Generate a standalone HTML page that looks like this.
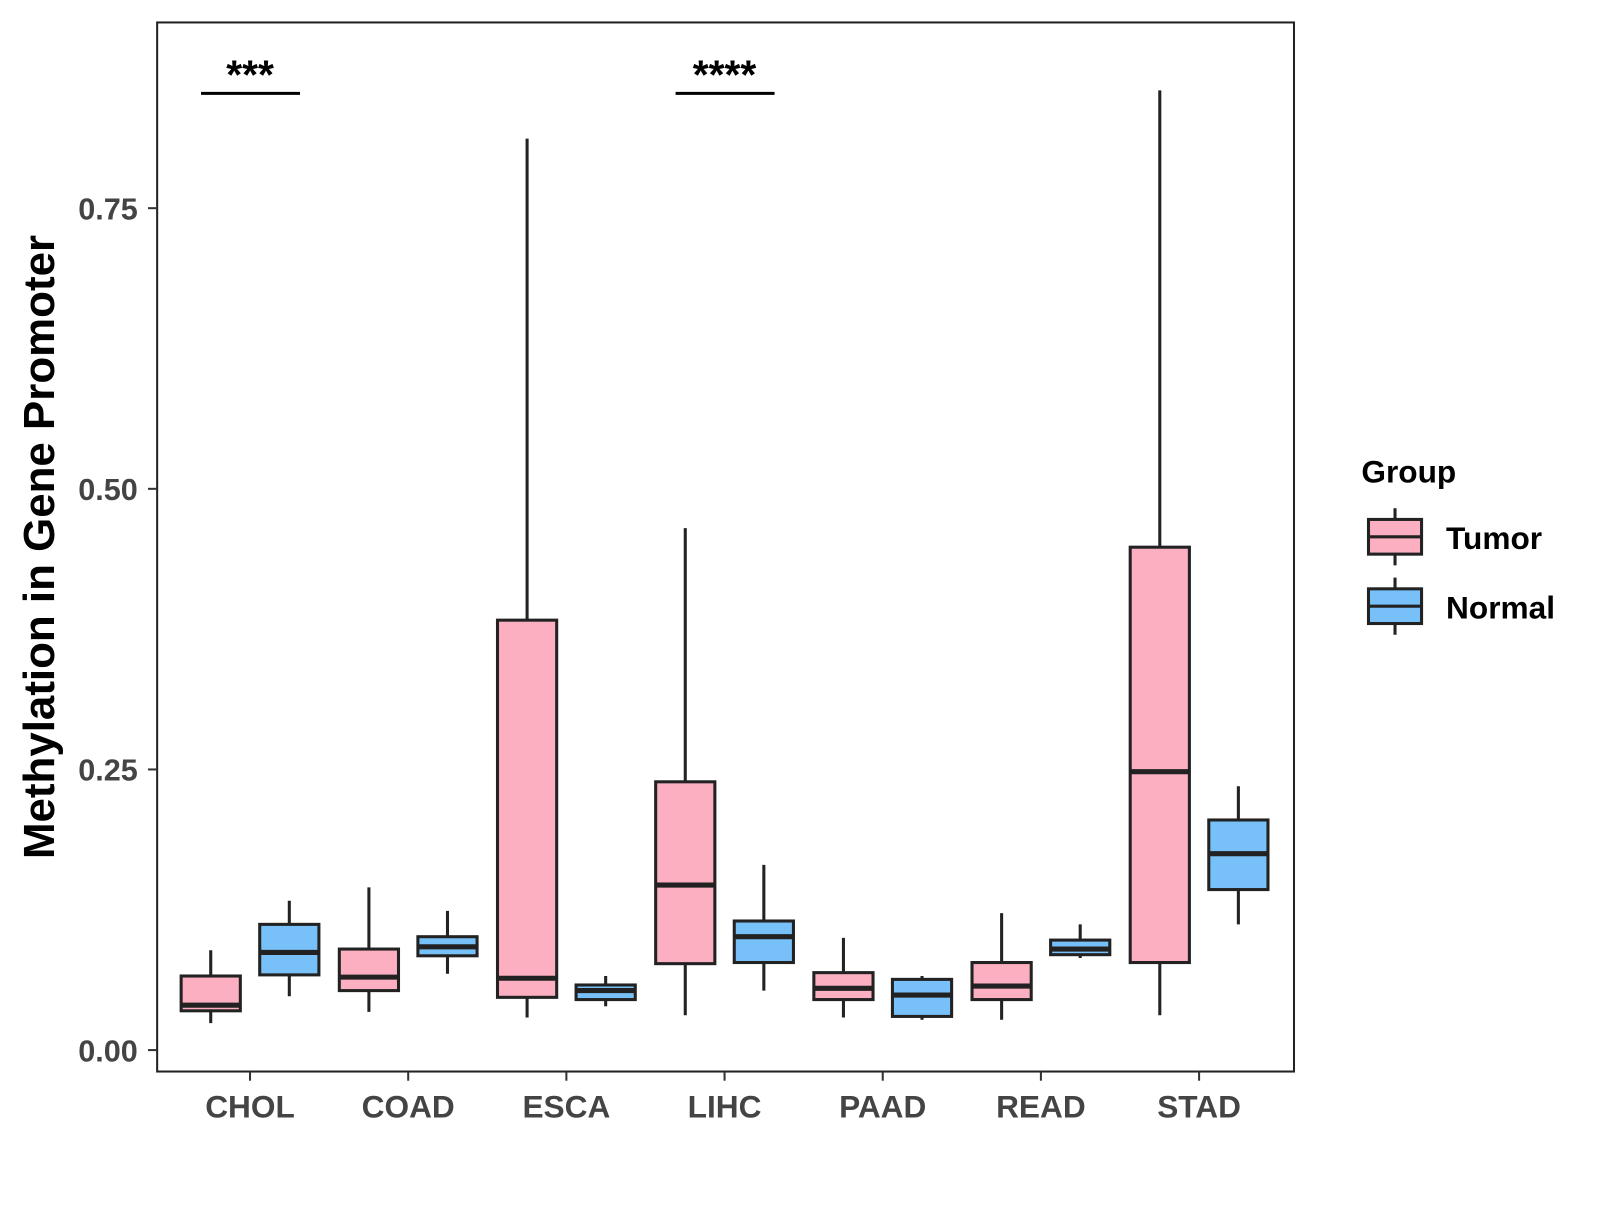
<!DOCTYPE html>
<html><head><meta charset="utf-8"><style>
body{margin:0;background:#fff}
svg text{font-family:"Liberation Sans",Arial,sans-serif;font-weight:bold}
</style></head><body>
<svg id="chart" width="1600" height="1200" viewBox="0 0 1600 1200">
<g transform="scale(1.0205)">
<rect x="154" y="22" width="1114" height="1028" fill="#fff" stroke="#222" stroke-width="2"/>
<g id="marks"></g>
<g id="axes"></g>
<text transform="translate(53,536) rotate(-90)" text-anchor="middle" font-size="43" fill="#000">Methylation in Gene Promoter</text>
<g>
<text x="1334" y="473" font-size="31" fill="#000">Group</text>
<g>
<line x1="1367" y1="498" x2="1367" y2="554" stroke="#222" stroke-width="3"/>
<rect x="1341" y="509" width="52" height="34" fill="#FBAFC0" stroke="#222" stroke-width="3"/>
<line x1="1341" y1="526" x2="1393" y2="526" stroke="#222" stroke-width="3"/>
<text x="1417" y="538" font-size="31" fill="#000">Tumor</text></g>
<g>
<line x1="1367" y1="566" x2="1367" y2="622" stroke="#222" stroke-width="3"/>
<rect x="1341" y="577" width="52" height="34" fill="#77C1F8" stroke="#222" stroke-width="3"/>
<line x1="1341" y1="594" x2="1393" y2="594" stroke="#222" stroke-width="3"/>
<text x="1417" y="606" font-size="31" fill="#000">Normal</text></g>
</g>
</g>
</svg>
<script>
const categories=["CHOL","COAD","ESCA","LIHC","PAAD","READ","STAD"];
// [lowWhisker, q1, median, q3, highWhisker]
const tumorStats=[[.024,.035,.040,.066,.089],[.034,.053,.065,.090,.145],[.029,.047,.064,.383,.812],[.031,.077,.147,.239,.465],[.029,.045,.055,.069,.100],[.027,.045,.057,.078,.122],[.031,.078,.248,.448,.855]];
const normalStats=[[.048,.067,.087,.112,.133],[.068,.084,.092,.101,.124],[.039,.045,.053,.058,.066],[.053,.078,.101,.115,.165],[.027,.030,.049,.063,.066],[.082,.085,.090,.098,.112],[.112,.143,.175,.205,.235]];
const yTicks=[0,0.25,0.5,0.75];
const yTickLabels=["0.00","0.25","0.50","0.75"];
const sigCategories=["CHOL","LIHC"];
const sigLabels=["***","****"];
const sigLevel=0.855;

const NS="http://www.w3.org/2000/svg";
const y=v=>1029-v*1100;
const x=i=>245+i*155;
function mk(tag,attrs,parent){const e=document.createElementNS(NS,tag);for(const k in attrs)e.setAttribute(k,attrs[k]);parent.appendChild(e);return e;}
const marks=document.getElementById('marks'),axes=document.getElementById('axes');
function drawBox(s,cx,fill,name){
  const g=mk('g',{},marks);
  
  
  mk('line',{x1:cx,x2:cx,y1:y(s[0]),y2:y(s[4]),stroke:'#222','stroke-width':3},g);
  mk('rect',{x:cx-29,width:58,y:y(s[3]),height:y(s[1])-y(s[3]),fill:fill,stroke:'#222','stroke-width':3},g);
  mk('line',{x1:cx-29,x2:cx+29,y1:y(s[2]),y2:y(s[2]),stroke:'#222','stroke-width':5},g);
}
categories.forEach((c,i)=>{
  drawBox(tumorStats[i],x(i)-38.5,'#FBAFC0','box-tumor-'+c.toLowerCase());
  drawBox(normalStats[i],x(i)+38.5,'#77C1F8','box-normal-'+c.toLowerCase());
  mk('line',{x1:x(i),x2:x(i),y1:1050,y2:1059,stroke:'#333','stroke-width':2},axes);
  const t=mk('text',{x:x(i),y:1095,'text-anchor':'middle','font-size':31,fill:'#444'},axes);
  t.textContent=c;
  
  
});
yTicks.forEach((v,i)=>{
  mk('line',{x1:145,x2:154,y1:y(v),y2:y(v),stroke:'#333','stroke-width':2},axes);
  const t=mk('text',{x:135,y:y(v)+11,'text-anchor':'end','font-size':30,fill:'#444'},axes);
  t.textContent=yTickLabels[i];
  
  
});
sigCategories.forEach((c,j)=>{
  const i=categories.indexOf(c);
  const g=mk('g',{},marks);
  
  
  mk('line',{x1:x(i)-48,x2:x(i)+49,y1:y(sigLevel)+3,y2:y(sigLevel)+3,stroke:'#000','stroke-width':3},g);
  const t=mk('text',{x:x(i),y:y(sigLevel)-2,'text-anchor':'middle','font-size':40,fill:'#000'},g);
  t.textContent=sigLabels[j];
});
</script>
</body></html>
